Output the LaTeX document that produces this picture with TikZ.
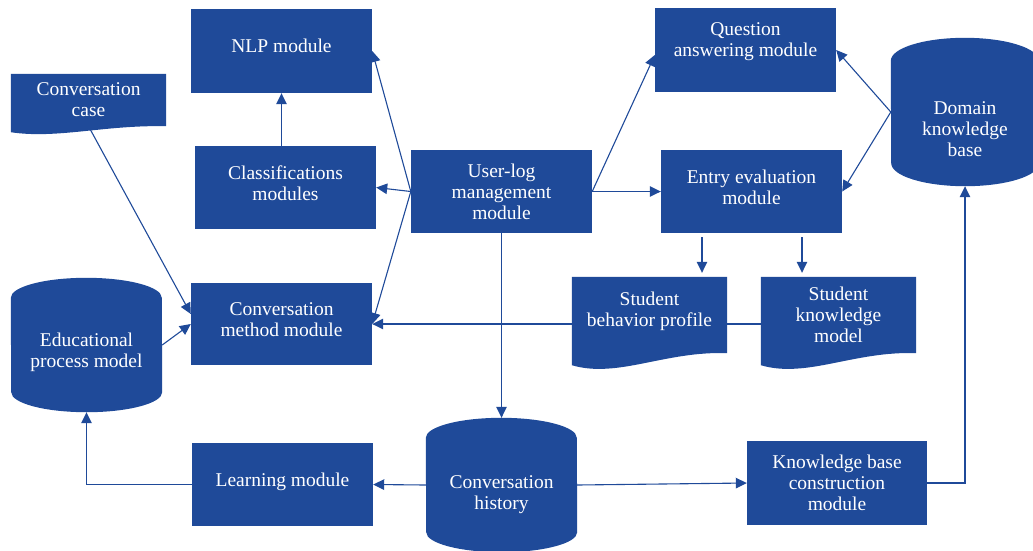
\documentclass[tikz,border=0pt]{standalone}
\usepackage{fontspec}
\setmainfont{Liberation Serif}
\usetikzlibrary{arrows.meta,backgrounds}
\definecolor{modblue}{RGB}{31,74,153}

\begin{document}
\begin{tikzpicture}
[every node/.style={inner sep=0pt},
 modbox/.style={rectangle, fill=modblue, minimum width=181pt, minimum height=83pt, text=white, align=center, font=\fontsize{19.5}{21}\selectfont},
 docbox/.style={rectangle, minimum width=155pt, text=white, align=center, font=\fontsize{19.5}{21}\selectfont},
 dbase/.style={rectangle, minimum width=151pt, minimum height=134pt, text=white, align=center, font=\fontsize{19.5}{21}\selectfont},
 link/.style={line width=1.1pt, draw=modblue},
 arr/.style={link, -{Triangle[length=11pt, width=10.5pt]}}]
\useasboundingbox (0pt, 0pt) rectangle (1033pt, -550pt);
\node (nlp) [modbox, minimum height=84pt, text depth=10pt] at (281.5pt, -51pt) {NLP module};
\node (classif) [modbox, text depth=8pt] at (285.5pt, -187.5pt) {Classifications\\modules};
\node (userlog) [modbox] at (501.5pt, -191.5pt) {User-log\\management\\module};
\node (qanswer) [modbox, minimum height=84pt] at (745.5pt, -50pt) {Question\\answering module\\\mbox{}};
\node (entryeval) [modbox, text depth=8pt] at (751.5pt, -191.5pt) {Entry evaluation\\module};
\node (convmethod) [modbox, minimum height=82pt, text depth=8pt] at (281.5pt, -324pt) {Conversation\\method module};
\node (learning) [modbox, text depth=9pt] at (282.5pt, -484.5pt) {Learning module};
\node (kbcons) [modbox, minimum width=180pt, minimum height=84pt] at (837pt, -483pt) {Knowledge base\\construction\\module};
\node (convcase) [docbox, minimum height=52pt] at (88.5pt, -100pt) {Conversation\\case};
\node (behavior) [docbox, minimum height=76pt, text depth=11pt] at (649.5pt, -315pt) {Student\\behavior profile};
\node (stuknow) [docbox, minimum height=76pt] at (838.5pt, -315pt) {Student\\knowledge\\model};
\node (domain) [dbase, minimum width=148pt, minimum height=148pt] at (965pt, -112pt) {\mbox{}\\[27pt]Domain\\knowledge\\base};
\node (eduproc) [dbase] at (86.5pt, -345pt) {\mbox{}\\[8pt]Educational\\process model};
\node (convhist) [dbase] at (501.5pt, -485pt) {\mbox{}\\[12pt]Conversation\\history};
\begin{scope}[on background layer]
\fill [modblue] (convcase.north west) -- (convcase.north east) -- (convcase.south east) .. controls +(-62pt, 1.4pt) and +(46pt, -7pt) .. ([yshift=-6pt]convcase.south west) -- cycle;
\fill [modblue] (behavior.north west) -- (behavior.north east) -- (behavior.south east) .. controls +(-62pt, 2.5pt) and +(46pt, -13.5pt) .. ([yshift=-12pt]behavior.south west) -- cycle;
\fill [modblue] (stuknow.north west) -- (stuknow.north east) -- (stuknow.south east) .. controls +(-62pt, 2.5pt) and +(46pt, -13.5pt) .. ([yshift=-12pt]stuknow.south west) -- cycle;
\fill [modblue] ([yshift=-23pt]domain.north west) arc [start angle=180, end angle=0, x radius=74pt, y radius=23pt] -- ([yshift=23pt]domain.south east) arc [start angle=0, end angle=-180, x radius=74pt, y radius=23pt] -- cycle;
\fill [modblue] ([yshift=-20pt]eduproc.north west) arc [start angle=180, end angle=0, x radius=75.5pt, y radius=20pt] -- ([yshift=20pt]eduproc.south east) arc [start angle=0, end angle=-180, x radius=75.5pt, y radius=20pt] -- cycle;
\fill [modblue] ([yshift=-20pt]convhist.north west) arc [start angle=180, end angle=0, x radius=75.5pt, y radius=20pt] -- ([yshift=20pt]convhist.south east) arc [start angle=0, end angle=-180, x radius=75.5pt, y radius=20pt] -- cycle;
\end{scope}
\draw [arr] (classif.north -| nlp.south) -- (nlp.south);
\draw [arr] (userlog.west) -- (nlp.east);
\draw [arr] (userlog.west) -- (classif.east);
\draw [arr] (userlog.west) -- (convmethod.east);
\draw [arr] (userlog.east) -- ([yshift=-5pt]qanswer.west);
\draw [arr] (userlog.east) -- (entryeval.west);
\draw [arr] (domain.west) -- (qanswer.east);
\draw [arr] (domain.west) -- (entryeval.east);
\draw [arr, shorten <=4pt, shorten >=4pt] ([xshift=-49.5pt]entryeval.south) -- ([xshift=-49.5pt]entryeval.south |- behavior.north);
\draw [arr, shorten <=4pt, shorten >=4pt] ([xshift=50.5pt]entryeval.south) -- ([xshift=50.5pt]entryeval.south |- stuknow.north);
\draw [link] (stuknow.west |- convmethod.east) -- (behavior.east |- convmethod.east);
\draw [arr] (behavior.west |- convmethod.east) -- (convmethod.east);
\draw [arr] (convcase.south) -- ([yshift=10pt]convmethod.west);
\draw [arr] (eduproc.east) -- (convmethod.west);
\draw [arr] (userlog.south) -- (convhist.north);
\draw [arr] (convhist.west) -- (learning.east);
\draw [arr] (convhist.east) -- (kbcons.west);
\draw [arr] (learning.west) -| (eduproc.south);
\draw [arr] (kbcons.east) -| (domain.south);
\end{tikzpicture}
\end{document}
